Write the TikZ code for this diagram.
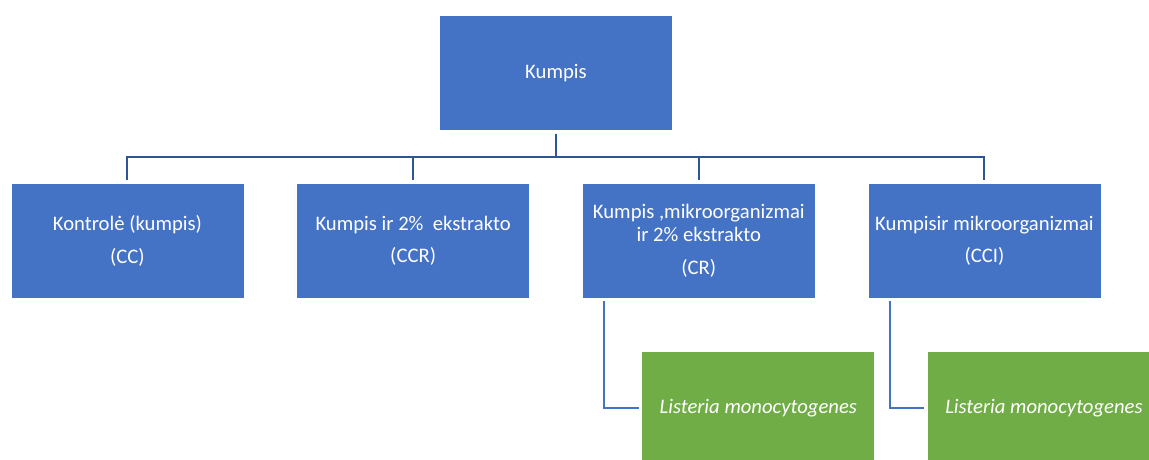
\documentclass[tikz,border=0pt]{standalone}
\usepackage{fontspec}
\setmainfont{Carlito}
\usetikzlibrary{positioning,calc}
\definecolor{boxblue}{HTML}{4472C4}
\definecolor{boxgreen}{HTML}{70AD47}
\definecolor{linkblue}{HTML}{2F5597}
\begin{document}
\begin{tikzpicture}[node distance=39pt, font=\fontsize{15.5pt}{17.5pt}\selectfont]
		\tikzstyle{box} = [rectangle, fill=boxblue, draw=white, line width=0.5pt, text=white,
			minimum width=174.75pt, minimum height=86.25pt, align=center, inner sep=0pt]
		\tikzstyle{gbox} = [box, fill=boxgreen]
		\tikzstyle{bus} = [draw=linkblue, line width=1.5pt, shorten <=2pt, shorten >=2pt]
		\tikzstyle{elbow} = [draw=boxblue, line width=1.5pt, shorten <=2pt, shorten >=2pt]

		\path [use as bounding box, clip] (0,0) rectangle (861.75pt,-345pt);

		\node [box] (c1) at (95.6pt,-180.6pt) {Kontrolė (kumpis)\\[7pt](CC)};
		\node [box] (c2) [right=of c1] {Kumpis ir 2\%\ \ ekstrakto\\[7pt](CCR)};
		\node [box] (c3) [right=of c2] {Kumpis ,mikroorganizmai\\ir 2\% ekstrakto\\[7pt](CR)};
		\node [box] (c4) [right=of c3] {Kumpisir mikroorganizmai\\[7pt](CCI)};

		\coordinate (mid) at ($(c2.north)!0.5!(c3.north)$);
		\node [box] (top) [above=of mid] {Kumpis};

		\node [gbox] (g1) [below=of c3, xshift=44.6pt] {\itshape Listeria monocytogenes};
		\node [gbox] (g2) [below=of c4, xshift=44.6pt] {\itshape Listeria monocytogenes};

		\draw [bus] (top.south) -- ++(0,-19.5pt) -| (c1.north);
		\draw [bus] (top.south) -- ++(0,-19.5pt) -| (c2.north);
		\draw [bus] (top.south) -- ++(0,-19.5pt) -| (c3.north);
		\draw [bus] (top.south) -- ++(0,-19.5pt) -| (c4.north);

		\draw [elbow] ([xshift=-71.25pt]c3.south) |- (g1.west);
		\draw [elbow] ([xshift=-70.5pt]c4.south) |- (g2.west);
	\end{tikzpicture}
\end{document}
